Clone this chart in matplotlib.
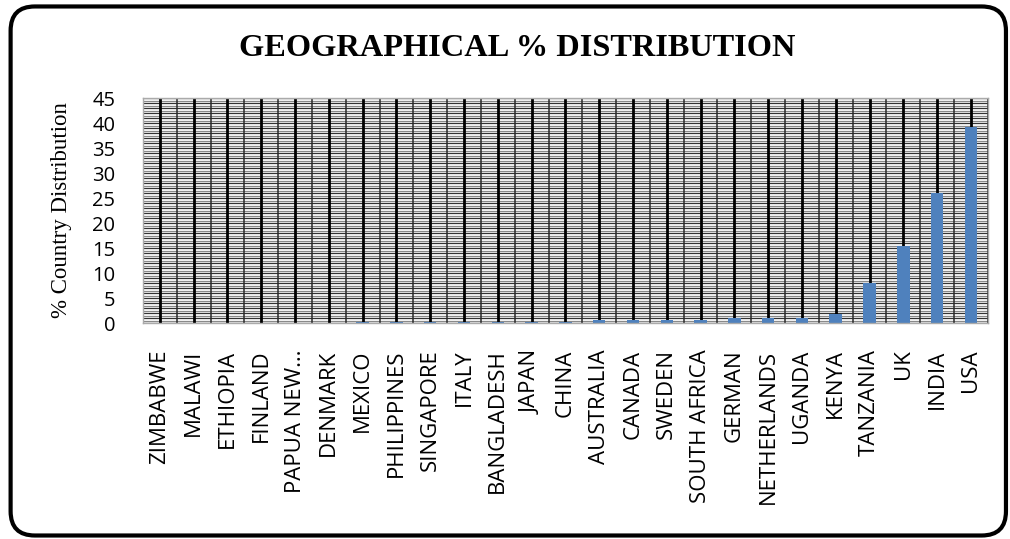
import matplotlib
matplotlib.use("Agg")
import matplotlib.pyplot as plt
import numpy as np
from matplotlib.patches import FancyBboxPatch

countries = ["ZIMBABWE", "MALAWI", "ETHIOPIA", "FINLAND", "PAPUA NEW…", "DENMARK",
             "MEXICO", "PHILIPPINES", "SINGAPORE", "ITALY", "BANGLADESH", "JAPAN",
             "CHINA", "AUSTRALIA", "CANADA", "SWEDEN", "SOUTH AFRICA", "GERMAN",
             "NETHERLANDS", "UGANDA", "KENYA", "TANZANIA", "UK", "INDIA", "USA"]
values = [0, 0, 0, 0, 0, 0,
          0.3, 0.3, 0.3, 0.3, 0.3, 0.3,
          0.3, 0.6, 0.6, 0.6, 0.6, 1.0,
          1.0, 1.0, 1.9, 8.1, 15.5, 26.1, 39.2]
yticks = [0, 5, 10, 15, 20, 25, 30, 35, 40, 45]

fig = plt.figure(figsize=(10.10, 5.39), dpi=100)
frame = FancyBboxPatch((0.0105, 0.0065), 0.9855, 0.9815,
                       boxstyle="round,pad=0,rounding_size=0.024",
                       transform=fig.transFigure, fill=False, lw=3.0, ec="black",
                       mutation_aspect=1010/539)
fig.patches.append(frame)

ax = fig.add_axes([0.1416, 0.4007, 0.8364, 0.4173])
n = len(countries)
x = np.arange(n)
ax.set_xlim(-0.5, n - 0.5)
ax.set_ylim(0, 45)

# dense horizontal grid
for yy in np.arange(0, 45.01, 0.5):
    ax.axhline(yy, color="#333333" if (yy * 2) % 2 == 0 else "#8a8a8a", lw=0.9, zorder=0)
# thin vertical lines at category boundaries
for b in np.arange(-0.5, n, 1.0):
    ax.axvline(b, color="#2a2a2a", lw=1.1, zorder=0.5)

ax.bar(x, values, width=0.37, color="#4F81BD", zorder=2)
# drop lines from top to bars
ax.vlines(x, values, 45, color="black", lw=2.0, zorder=1.5)

ax.set_yticks(yticks)
ax.set_yticklabels([str(v) for v in yticks], fontsize=14.5, family="Open Sans")
ax.set_xticks(x)
ax.set_xticklabels(countries, rotation=90, fontsize=16, family="Open Sans", va="top")
ax.tick_params(axis="y", length=0, pad=20)
ax.tick_params(axis="x", length=0, pad=19)
for s in ax.spines.values():
    s.set_color("#aaaaaa")
    s.set_linewidth(1)

ax.set_ylabel("% Country Distribution", family="Liberation Serif", fontsize=16.5)
ax.yaxis.set_label_coords(-0.084, 0.5)
fig.text(0.512, 0.91, "GEOGRAPHICAL % DISTRIBUTION", ha="center", va="center",
         family="Liberation Serif", weight="bold", fontsize=23.3)

fig.savefig("out.png", dpi=100)
